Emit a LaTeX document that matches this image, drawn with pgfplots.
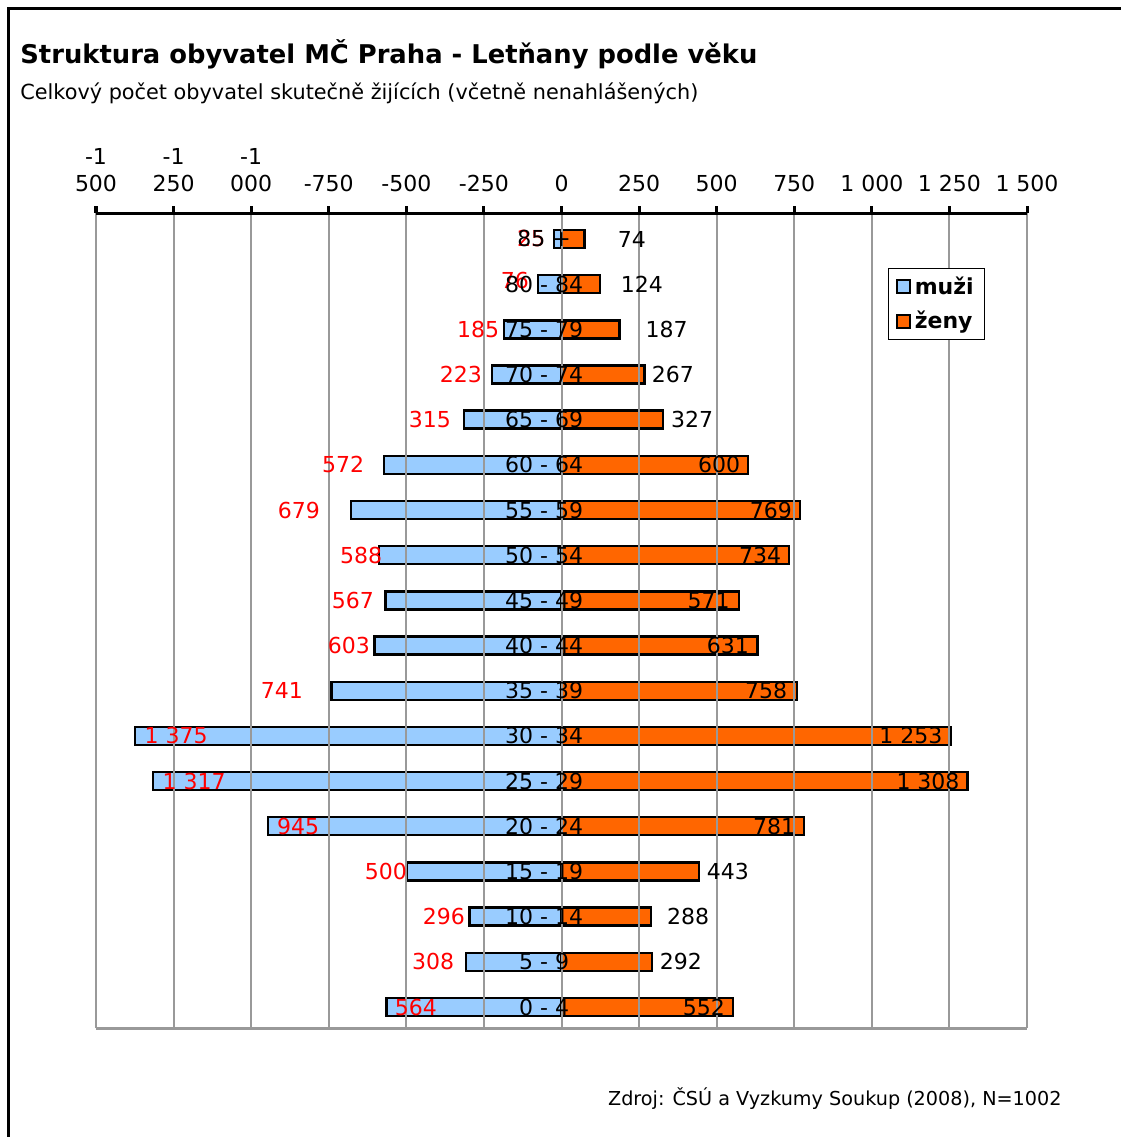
\documentclass[border=0pt]{standalone}
\usepackage{fontspec}
\setmainfont{DejaVu Sans}
\usepackage{pgfplots}
\pgfplotsset{compat=1.18}
\usepackage{pgfplotstable}

\definecolor{menblue}{HTML}{99CCFF}
\definecolor{womenorange}{HTML}{FF6600}
\definecolor{gridgray}{HTML}{999999}

% idx, age group, men (negative), women, label positions (x for men, y for men, x for women)
\pgfplotstableread{
idx age      m      f     lm     ym     tm       lf    tf
0   {0 - 4}  -564   552   -469   0      564      459   552
1   {5 - 9}  -308   292   -414   1      308      385   292
2   {10 - 14} -296  288   -379   2      296      408   288
3   {15 - 19} -500  443   -566   3      500      536   443
4   {20 - 24} -945  781   -849   4      945      685   781
5   {25 - 29} -1317 1308  -1184  5      {1 317}  1181  {1 308}
6   {30 - 34} -1375 1253  -1242  6      {1 375}  1126  {1 253}
7   {35 - 39} -741  758   -901   7      741      659   758
8   {40 - 44} -603  631   -685   8      603      536   631
9   {45 - 49} -567  571   -672   9      567      474   571
10  {50 - 54} -588  734   -646   10     588      640   734
11  {55 - 59} -679  769   -846   11     679      675   769
12  {60 - 64} -572  600   -704   12     572      508   600
13  {65 - 69} -315  327   -424   13     315      421   327
14  {70 - 74} -223  267   -324   14     223      359   267
15  {75 - 79} -185  187   -269   15     185      339   187
16  {80 - 84} -76   124   -150   16.09  76       259   124
17  {85 +}    -25   74    -98    17     25       227   74
}\pyramid

\begin{document}
\begin{tikzpicture}
\def\lab{\fontsize{11}{13.5}\selectfont}
\useasboundingbox (0,0) rectangle (560.5pt,-568.5pt);
\begin{scope}[x=0.5pt,y=-0.5pt]
  \draw[line width=1.5pt] (8.5,1137) -- (8.5,8.5) -- (1121,8.5);
  \node[anchor=base west, inner sep=0pt, font=\fontsize{12.9}{15}\selectfont\bfseries] at (20,63)
    {Struktura obyvatel MČ Praha - Letňany podle věku};
  \node[anchor=base west, inner sep=0pt, font=\fontsize{10.4}{12.5}\selectfont] at (20,99)
    {Celkový počet obyvatel skutečně žijících (včetně nenahlášených)};
  \node[anchor=base east, inner sep=0pt, font=\fontsize{9.6}{11.5}\selectfont] at (1062,1105)
    {Zdroj: ČSÚ a Vyzkumy Soukup (2008), N=1002};
\end{scope}
\begin{axis}[
  at={(48pt,-106.5pt)}, anchor=north west,
  width=465.5pt, height=407.5pt, scale only axis,
  xmin=-1500, xmax=1500, ymin=-0.465, ymax=17.575,
  axis x line*=top, axis y line=none,
  axis line style={black, line width=1.5pt},
  xtick={-1500,-1250,...,1500},
  xticklabels={{-1\\500},{-1\\250},{-1\\000},-750,-500,-250,0,250,500,750,1 000,1 250,1 500},
  xticklabel style={align=center, font=\lab, text depth=0pt, anchor=south, yshift=3.5pt},
  tick align=outside, major tick length=3.5pt,
  tick style={black, line width=1.5pt},
  ytick=\empty,
  xmajorgrids, grid style={gridgray, line width=1pt},
  axis on top,
  clip=false,
  legend style={at={(rel axis cs:0.851,0.9325)}, anchor=north west,
    draw=black, line width=0.5pt, font=\lab\bfseries,
    row sep=3pt, inner xsep=3.5pt, inner ysep=2pt},
  legend cell align=left,
  legend image code/.code={\draw[#1, line width=1pt] (0pt,-3.25pt) rectangle (6.5pt,3.25pt);},
]
\addplot[xbar, bar width=9pt, bar shift=0pt, fill=menblue, draw=black, line width=1.2pt]
  table[x=m, y=idx] {\pyramid};
\addlegendentry{muži}
\addplot[xbar, bar width=9pt, bar shift=0pt, fill=womenorange, draw=black, line width=1.2pt]
  table[x=f, y=idx] {\pyramid};
\addlegendentry{ženy}
% data labels
\addplot[draw=none, mark=none, forget plot, nodes near coords, point meta=explicit symbolic,
  nodes near coords align={anchor=center},
  every node near coord/.style={font=\lab, text=red, inner sep=0pt}]
  table[x=lm, y=ym, meta=tm] {\pyramid};
\addplot[draw=none, mark=none, forget plot, nodes near coords, point meta=explicit symbolic,
  nodes near coords align={anchor=center},
  every node near coord/.style={font=\lab, text=black, inner sep=0pt}]
  table[x=lf, y=idx, meta=tf] {\pyramid};
% age groups
\addplot[draw=none, mark=none, forget plot, nodes near coords, point meta=explicit symbolic,
  nodes near coords align={anchor=center},
  every node near coord/.style={font=\lab, text=black, inner sep=0pt}]
  table[x expr=-56, y=idx, meta=age] {\pyramid};
\draw[gridgray, line width=1.5pt] (rel axis cs:0,0) -- (rel axis cs:1,0);
\end{axis}
\end{tikzpicture}
\end{document}
